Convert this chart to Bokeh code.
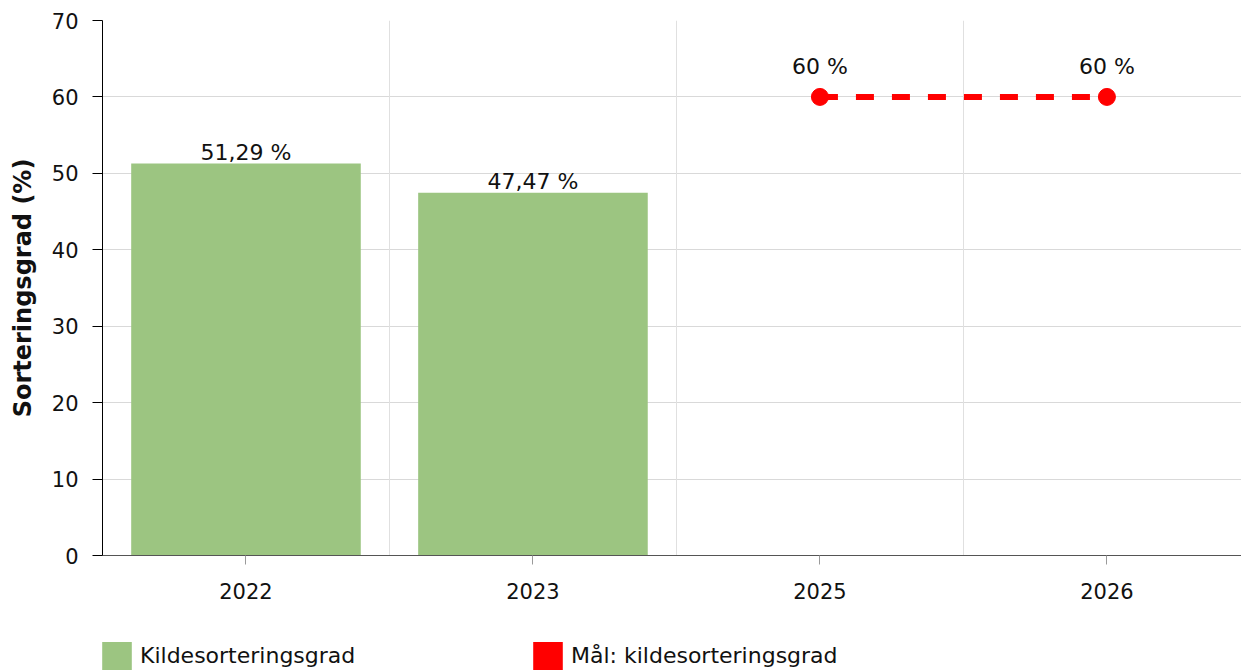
from bokeh.plotting import figure
from bokeh.layouts import column
from bokeh.models import ColumnDataSource, FixedTicker, Range1d, Legend, LegendItem, Grid
from bokeh.core.properties import value
from bokeh.embed import file_html
from bokeh.resources import INLINE

# ---- data ----
years = ["2022", "2023", "2025", "2026"]
bar_years = ["2022", "2023"]
bar_values = [51.29, 47.47]
target_years = ["2025", "2026"]
target_values = [60, 60]
y_ticks = [0, 10, 20, 30, 40, 50, 60, 70]
series_names = ["Kildesorteringsgrad", "Mål: kildesorteringsgrad"]
y_title = "Sorteringsgrad (%)"

FONT = "DejaVu Sans"
TEXT = "#111111"
GREEN = "#9cc581"
RED = "#ff0000"


def fmt(v):
    if float(v).is_integer():
        return f"{int(v)} %"
    return f"{v:.2f}".replace(".", ",") + " %"


idx = {y: i for i, y in enumerate(years)}
bar_src = ColumnDataSource(dict(
    x=[idx[y] for y in bar_years], top=bar_values,
    label=[fmt(v) for v in bar_values]))
tgt_src = ColumnDataSource(dict(
    x=[idx[y] for y in target_years], y=target_values,
    label=[fmt(v) for v in target_values]))

# ---------------- main chart ----------------
p = figure(width=1241, height=622,
           x_range=Range1d(-0.5, 3.469), y_range=Range1d(0, 70),
           output_backend="svg", toolbar_location=None,
           min_border_left=102, min_border_top=20, min_border_bottom=67,
           min_border_right=0)
p.outline_line_color = None
p.background_fill_color = "white"
p.border_fill_color = "white"

p.xgrid.visible = False
p.ygrid.ticker = FixedTicker(ticks=y_ticks)
p.ygrid.grid_line_color = "#d9d9d9"
p.ygrid.grid_line_width = 1
xg = Grid(dimension=0, ticker=FixedTicker(ticks=[i + 0.5 for i in range(len(years) - 1)]),
          grid_line_color="#e0e0e0", grid_line_width=1)
p.add_layout(xg)

p.vbar(x="x", top="top", width=0.8, source=bar_src, fill_color=GREEN, line_color=None)
p.text(x="x", y="top", text="label", source=bar_src,
       text_align="center", text_baseline="alphabetic", y_offset=-11,
       text_font=value(FONT), text_font_size="22px", text_color=TEXT)

p.line(x="x", y="y", source=tgt_src, line_color=RED, line_width=6, line_dash="18 18")
p.scatter(x="x", y="y", source=tgt_src, size=17, fill_color=RED, line_color=RED)
p.text(x="x", y="y", text="label", source=tgt_src,
       text_align="center", text_baseline="alphabetic", y_offset=-30,
       text_font=value(FONT), text_font_size="22px", text_color=TEXT)

xa = p.xaxis[0]
xa.ticker = FixedTicker(ticks=list(range(len(years))))
xa.major_label_overrides = {i: y for i, y in enumerate(years)}
xa.axis_line_color = "#555555"
xa.major_tick_line_color = "#9a9a9a"
xa.major_tick_out = 9
xa.major_tick_in = 0
xa.minor_tick_line_color = None
xa.major_label_standoff = 18
xa.major_label_text_font = FONT
xa.major_label_text_font_size = "21px"
xa.major_label_text_color = TEXT

ya = p.yaxis[0]
ya.ticker = FixedTicker(ticks=y_ticks)
ya.axis_line_color = "black"
ya.major_tick_line_color = "black"
ya.major_tick_out = 10
ya.major_tick_in = 0
ya.minor_tick_line_color = None
ya.major_label_standoff = 14
ya.major_label_text_font = FONT
ya.major_label_text_font_size = "21px"
ya.major_label_text_color = TEXT
ya.axis_label = y_title
ya.axis_label_text_font = FONT
ya.axis_label_text_font_size = "24px"
ya.axis_label_text_font_style = "bold"
ya.axis_label_text_color = TEXT
ya.axis_label_standoff = 12

# ---------------- legend strip ----------------
lf = figure(width=1241, height=48, x_range=Range1d(-0.5, 3.469), y_range=Range1d(1, 2),
            output_backend="svg", toolbar_location=None,
            x_axis_location=None, y_axis_location=None,
            min_border_left=102, min_border_top=16, min_border_bottom=0, min_border_right=0)
lf.outline_line_color = None
lf.grid.visible = False
# zero-height swatch renderers (outside the strip's y-range, so only the legend shows them)
lg_bar = lf.vbar(x="x", top=0, width=0.8, source=bar_src,
                 fill_color=GREEN, line_color=None)
lg_tgt = lf.vbar(x="x", top=0, width=0.8, source=tgt_src,
                 fill_color=RED, line_color=None)

legend = Legend(items=[LegendItem(label=series_names[0], renderers=[lg_bar]),
                       LegendItem(label=series_names[1], renderers=[lg_tgt])],
                location=(-4, -3), orientation="horizontal",
                glyph_width=37, glyph_height=35, label_standoff=5,
                label_width=389, spacing=0, padding=0, margin=0,
                border_line_color=None, background_fill_alpha=0,
                label_text_font=FONT, label_text_font_size="22px",
                label_text_color=TEXT)
lf.add_layout(legend)

layout = column(p, lf, spacing=0)
open("out.html", "w").write(file_html(layout, INLINE))
